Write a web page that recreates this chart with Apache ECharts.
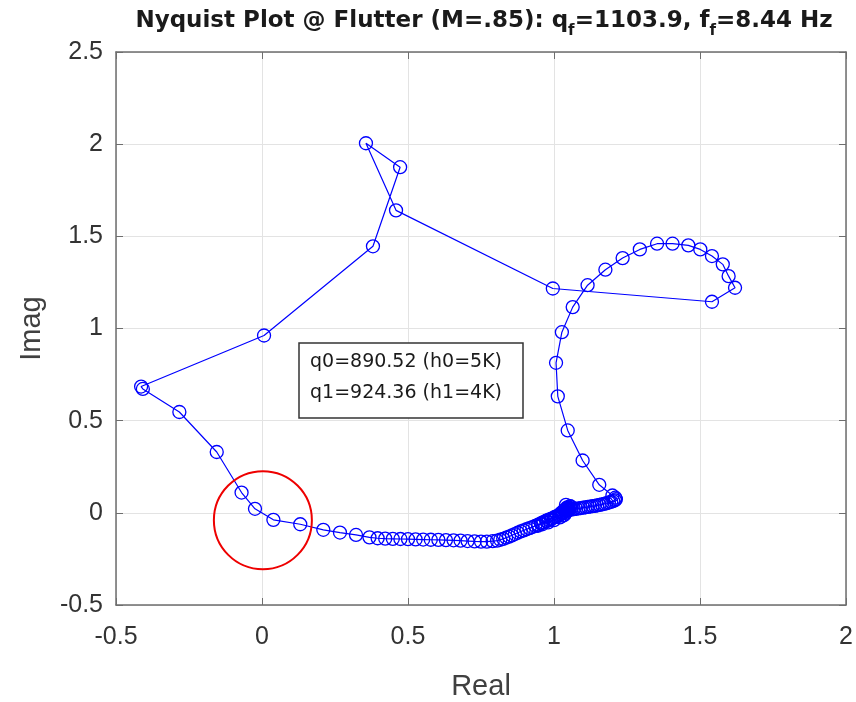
<!DOCTYPE html>
<html>
<head>
<meta charset="utf-8">
<script src="https://cdn.jsdelivr.net/npm/echarts@6/dist/echarts.min.js"></script>
<style>
  html, body { margin: 0; padding: 0; background: #fff; }
  #chart { width: 856px; height: 702px; }
</style>
</head>
<body>
<div id="chart"></div>
<script>
// axis ticks
var xTicks = [-0.5, 0, 0.5, 1, 1.5, 2];
var yTicks = [-0.5, 0, 0.5, 1, 1.5, 2, 2.5];

// nyquist path, in path order
// 1) short trail leaving the cluster towards Re=1.2
var trailRe = [1.036, 1.044, 1.052, 1.060, 1.068, 1.076, 1.084, 1.092, 1.100, 1.108,
  1.116, 1.124, 1.132, 1.140, 1.148, 1.156, 1.164, 1.172, 1.180, 1.188,
  1.196, 1.203, 1.209, 1.212, 1.210, 1.200];
var trailIm = [0.012, 0.014, 0.016, 0.018, 0.020, 0.022, 0.024, 0.026, 0.028, 0.030,
  0.032, 0.034, 0.036, 0.038, 0.040, 0.043, 0.046, 0.049, 0.052, 0.056,
  0.060, 0.064, 0.068, 0.074, 0.082, 0.094];
// 2) big loop up, over to the left and back down
var loopRe = [1.155, 1.098, 1.047, 1.013, 1.007, 1.027, 1.064, 1.115, 1.176, 1.235,
  1.294, 1.353, 1.406, 1.460, 1.501, 1.541, 1.578, 1.598, 1.620, 1.541,
  0.996, 0.459, 0.356, 0.473, 0.380, 0.007, -0.414, -0.408, -0.283, -0.155,
  -0.070, -0.024, 0.039, 0.131, 0.210, 0.267, 0.322, 0.368, 0.396];
var loopIm = [0.152, 0.284, 0.447, 0.632, 0.814, 0.980, 1.116, 1.235, 1.319, 1.382,
  1.429, 1.460, 1.460, 1.451, 1.429, 1.393, 1.348, 1.284, 1.221, 1.145,
  1.217, 1.641, 2.005, 1.875, 1.446, 0.962, 0.685, 0.672, 0.547, 0.330,
  0.110, 0.022, -0.038, -0.062, -0.092, -0.107, -0.120, -0.133, -0.138];
// 3) flat band below the real axis
var bandRe = [0.422, 0.448, 0.474, 0.500, 0.526, 0.552, 0.578, 0.604, 0.630, 0.656,
  0.680, 0.704, 0.728, 0.750, 0.770, 0.790, 0.805];
var bandIm = [-0.140, -0.141, -0.142, -0.143, -0.144, -0.145, -0.146, -0.147, -0.148, -0.149,
  -0.151, -0.153, -0.155, -0.156, -0.156, -0.154, -0.151];
// 4) rise towards Re=1
var riseRe = [0.816, 0.826, 0.836, 0.846, 0.856, 0.866, 0.876, 0.886, 0.896, 0.906,
  0.916, 0.926, 0.936, 0.946, 0.955, 0.964, 0.973, 0.982, 0.991, 1.000,
  1.008, 1.016, 1.024, 1.031, 1.038, 1.044, 1.048];
var riseIm = [-0.146, -0.141, -0.135, -0.129, -0.122, -0.115, -0.108, -0.101, -0.095, -0.089,
  -0.083, -0.077, -0.071, -0.064, -0.057, -0.050, -0.043, -0.037, -0.031, -0.025,
  -0.019, -0.013, -0.007, -0.001, 0.006, 0.014, 0.022];
// 5) dense knot near (1, 0)
var knotRe = [1.050, 1.041, 1.056, 1.045, 1.035, 1.020, 1.000, 0.980, 0.960, 0.945,
  0.960, 0.975, 0.990, 1.005, 1.020, 1.030, 1.040, 1.048, 1.055, 1.060,
  1.050, 1.040, 1.030, 1.025, 1.035, 1.045];
var knotIm = [0.030, 0.043, 0.035, 0.020, -0.012, -0.025, -0.040, -0.052, -0.062, -0.070,
  -0.055, -0.045, -0.035, -0.022, -0.010, 0.005, 0.018, 0.028, 0.036, 0.030,
  0.015, 0.000, -0.015, 0.000, 0.015, 0.030];

var boxLines = ['q0=890.52 (h0=5K)', 'q1=924.36 (h1=4K)'];

var reData = trailRe.concat(loopRe, bandRe, riseRe, knotRe);
var imData = trailIm.concat(loopIm, bandIm, riseIm, knotIm);
var points = reData.map(function (x, i) { return [x, imData[i]]; });

var chart = echarts.init(document.getElementById('chart'), null, { renderer: 'canvas' });

var axisCol = '#6e6e6e';
var font = 'Liberation Sans, Arial, sans-serif';
var wideFont = 'DejaVu Sans, sans-serif';

function boxAxis(pos, ticks, showLabels, margin) {
  return {
    type: 'value',
    position: pos,
    min: ticks[0],
    max: ticks[ticks.length - 1],
    interval: 0.5,
    axisLine: { show: true, onZero: false, lineStyle: { color: axisCol, width: 1.5 } },
    axisTick: { show: true, inside: true, length: 7, lineStyle: { color: axisCol, width: 1 } },
    axisLabel: {
      show: showLabels,
      color: '#333',
      fontSize: 25,
      fontFamily: font,
      margin: margin || 13
    },
    splitLine: { show: showLabels, lineStyle: { color: '#e3e3e3', width: 1 } }
  };
}

var xMain = boxAxis('bottom', xTicks, true, 20);
xMain.name = 'Real';
xMain.nameLocation = 'middle';
xMain.nameGap = 67;
xMain.nameTextStyle = { fontSize: 29, color: '#404040', fontFamily: font };

var yMain = boxAxis('left', yTicks, true, 13);
yMain.axisLabel.padding = [4, 0, 0, 0];
yMain.name = 'Imag';
yMain.nameLocation = 'middle';
yMain.nameGap = 70;
yMain.nameTextStyle = { fontSize: 29, color: '#404040', fontFamily: font };

var option = {
  animation: false,
  backgroundColor: '#fff',
  title: {
    text: '{b|Nyquist Plot @ Flutter (M=.85): q}{s|f}{b|=1103.9, f}{s|f}{b|=8.44 Hz}',
    left: 479,
    top: 5,
    textAlign: 'center',
    textStyle: {
      rich: {
        b: { fontSize: 23, fontWeight: 'bold', color: '#1a1a1a', fontFamily: wideFont, lineHeight: 30, verticalAlign: 'top' },
        s: { fontSize: 15, fontWeight: 'bold', color: '#1a1a1a', fontFamily: wideFont, lineHeight: 30, verticalAlign: 'top', padding: [14, 0, 0, 0] }
      }
    }
  },
  grid: { left: 116, right: 10, top: 52, bottom: 97, containLabel: false, outerBoundsMode: 'none' },
  xAxis: [xMain, boxAxis('top', xTicks, false)],
  yAxis: [yMain, boxAxis('right', yTicks, false)],
  series: [{
    type: 'line',
    data: points,
    xAxisIndex: 0,
    yAxisIndex: 0,
    symbol: 'circle',
    symbolSize: 13,
    showAllSymbol: true,
    lineStyle: { color: '#0000ff', width: 1.2 },
    itemStyle: { color: 'rgba(0,0,0,0)', borderColor: '#0000ff', borderWidth: 1.3 },
    emphasis: { disabled: true },
    z: 3
  }]
};

chart.setOption(option);

// red circle around the origin crossing and the text box
var c = chart.convertToPixel({ xAxisIndex: 0, yAxisIndex: 0 }, [0.003, -0.04]);
chart.setOption({
  graphic: [
    {
      type: 'circle',
      shape: { cx: c[0], cy: c[1], r: 49 },
      style: { fill: 'none', stroke: '#ee0000', lineWidth: 2 },
      z: 10
    },
    {
      type: 'rect',
      shape: { x: 299, y: 343, width: 224, height: 75 },
      style: { fill: '#fff', stroke: '#333', lineWidth: 1.5 },
      z: 10
    },
    {
      type: 'text',
      x: 310, y: 347,
      style: { text: boxLines.join('\n'), fontSize: 19, lineHeight: 31, fill: '#1a1a1a', fontFamily: wideFont },
      z: 11
    }
  ]
});
</script>
</body>
</html>
